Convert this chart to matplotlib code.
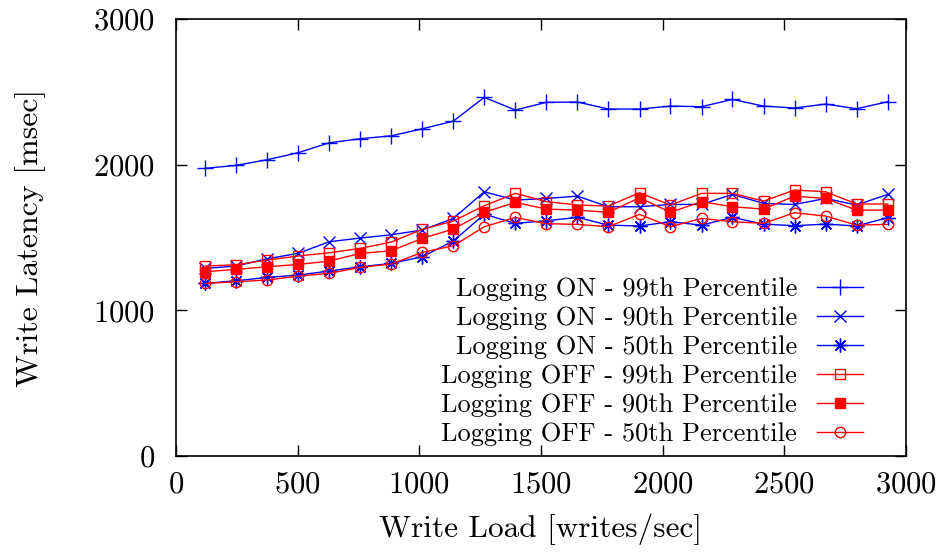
import numpy as np
import matplotlib
matplotlib.use("Agg")
import matplotlib.pyplot as plt

plt.rcParams['font.family'] = ['cmr10', 'DejaVu Serif']
plt.rcParams['axes.formatter.use_mathtext'] = True

# write load (writes/sec)
load = [120, 247, 375, 502, 630, 757, 885, 1012, 1140, 1267, 1395, 1522,
        1650, 1777, 1905, 2032, 2160, 2287, 2415, 2542, 2670, 2797, 2925]

# latencies in msec
on_99 = [1975, 1995, 2034, 2082, 2150, 2178, 2198, 2246, 2299, 2462, 2375, 2428,
         2430, 2382, 2382, 2402, 2398, 2448, 2402, 2389, 2416, 2384, 2432]
on_90 = [1288, 1304, 1354, 1391, 1471, 1496, 1519, 1551, 1631, 1814, 1757, 1768,
         1784, 1711, 1711, 1727, 1727, 1796, 1734, 1727, 1768, 1723, 1796]
on_50 = [1185, 1203, 1226, 1242, 1270, 1299, 1322, 1368, 1476, 1659, 1597, 1615,
         1638, 1585, 1579, 1608, 1585, 1638, 1592, 1581, 1592, 1579, 1636]
off_99 = [1304, 1313, 1345, 1373, 1395, 1425, 1469, 1556, 1613, 1718, 1803, 1746,
          1723, 1716, 1807, 1723, 1803, 1803, 1750, 1826, 1814, 1730, 1730]
off_90 = [1265, 1281, 1299, 1315, 1338, 1391, 1409, 1494, 1558, 1673, 1741, 1695,
          1688, 1673, 1773, 1673, 1746, 1711, 1695, 1784, 1768, 1688, 1688]
off_50 = [1185, 1196, 1208, 1235, 1254, 1295, 1318, 1398, 1443, 1574, 1638, 1595,
          1590, 1574, 1659, 1574, 1631, 1608, 1597, 1670, 1647, 1585, 1590]

labels = ["Logging ON - 99th Percentile", "Logging ON - 90th Percentile",
          "Logging ON - 50th Percentile", "Logging OFF - 99th Percentile",
          "Logging OFF - 90th Percentile", "Logging OFF - 50th Percentile"]

fig = plt.figure(figsize=(9.4, 5.54), dpi=100)
ax = fig.add_axes([0.1872, 0.1769, 0.7766, 0.7888])

blue = '#0000ff'
red = '#ff0000'
lw = 1.0
ax.plot(load, on_99, color=blue, lw=lw, marker='+', ms=11, mew=1.0, label=labels[0])
ax.plot(load, on_90, color=blue, lw=lw, marker='x', ms=8, mew=1.0, label=labels[1])
ax.plot(load, on_50, color=blue, lw=lw, marker=(8, 2, 0), ms=10, mew=1.0, label=labels[2])
ax.plot(load, off_99, color=red, lw=lw, marker='s', ms=7.5, mfc='none', mew=1.0, label=labels[3])
ax.plot(load, off_90, color=red, lw=lw, marker='s', ms=7.5, mew=1.0, label=labels[4])
ax.plot(load, off_50, color=red, lw=lw, marker='o', ms=7.5, mfc='none', mew=1.0, label=labels[5])

ax.set_xlim(0, 3000)
ax.set_ylim(0, 3000)
ax.set_xticks(np.arange(0, 3001, 500))
ax.set_yticks(np.arange(0, 3001, 1000))
ax.tick_params(direction='in', top=True, right=True, length=8, width=1.0,
               labelsize=22)
ax.tick_params(axis='y', pad=15)
ax.tick_params(axis='x', pad=11)
for s in ax.spines.values():
    s.set_linewidth(1.2)

ax.set_xlabel("Write Load [writes/sec]", fontsize=22.5, labelpad=11)
ax.set_ylabel("Write Latency [msec]", fontsize=23, labelpad=34)

ax.legend(loc='lower right', bbox_to_anchor=(0.941, 0.023), frameon=False,
          markerfirst=False, fontsize=19, labelspacing=0.2, handlelength=1.75,
          handletextpad=0.75, borderpad=0.0, borderaxespad=0.0)

fig.savefig("out.png", dpi=100)
